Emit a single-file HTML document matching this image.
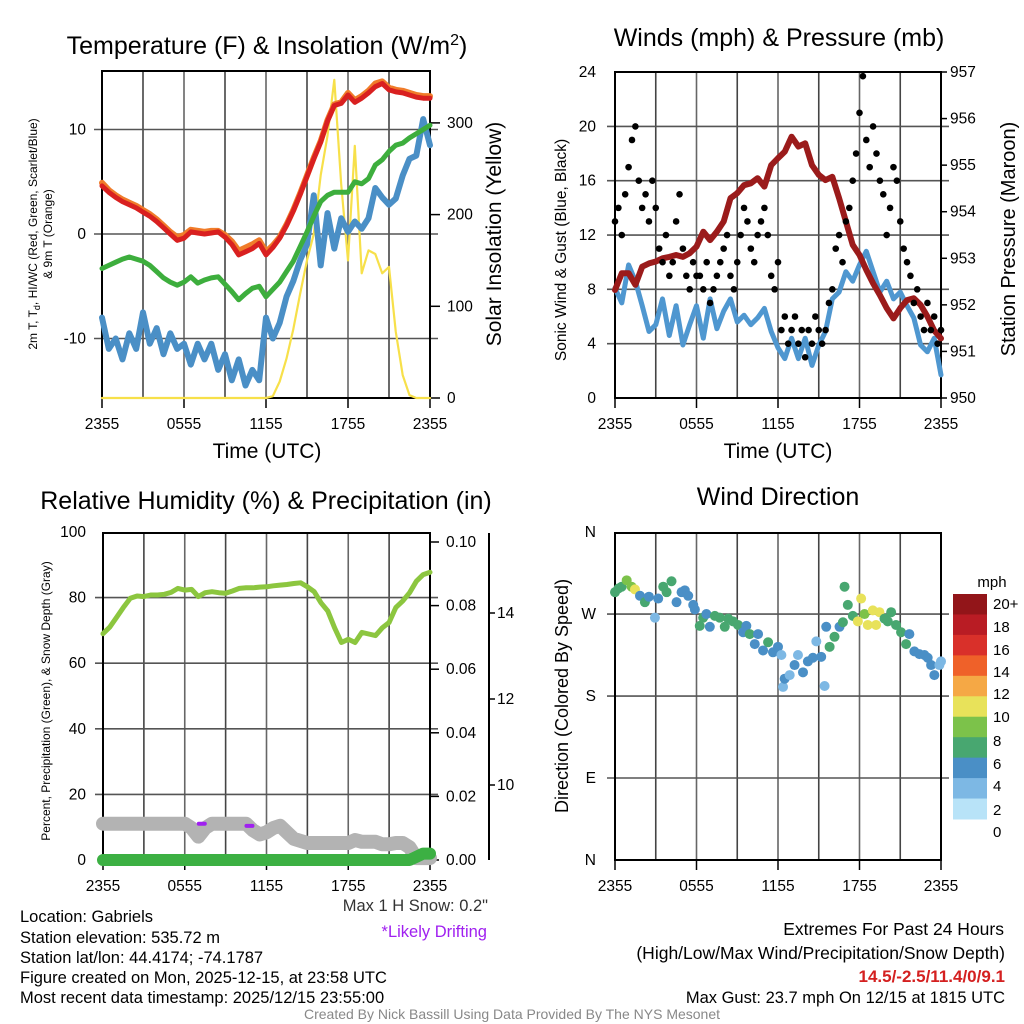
<!DOCTYPE html>
<html><head><meta charset="utf-8"><style>
html,body{margin:0;padding:0;background:#fff;}
svg{display:block;font-family:"Liberation Sans",Arial,sans-serif;}
</style></head><body>
<svg id="chart" width="1024" height="1024" viewBox="0 0 1024 1024">
<text x="267" y="54" font-size="25" text-anchor="middle">Temperature (F) &amp; Insolation (W/m<tspan dy="-9" font-size="16">2</tspan><tspan dy="9">)</tspan></text>
<text x="779" y="46" font-size="25" text-anchor="middle">Winds (mph) &amp; Pressure (mb)</text>
<text x="266" y="509" font-size="25" text-anchor="middle">Relative Humidity (%) &amp; Precipitation (in)</text>
<text x="778" y="505" font-size="25" text-anchor="middle">Wind Direction</text>
<text transform="translate(37,234) rotate(-90)" font-size="12" text-anchor="middle">2m T, T<tspan dy="3" font-size="9">d</tspan><tspan dy="-3">,  HI/WC (Red, Green, Scarlet/Blue)</tspan></text>
<text transform="translate(52,234) rotate(-90)" font-size="12" text-anchor="middle">&amp; 9m T (Orange)</text>
<text transform="translate(501,234) rotate(-90)" font-size="21" text-anchor="middle">Solar Insolation (Yellow)</text>
<text transform="translate(566,250) rotate(-90)" font-size="15.5" text-anchor="middle">Sonic Wind &amp; Gust (Blue, Black)</text>
<text transform="translate(1015,239) rotate(-90)" font-size="20" text-anchor="middle">Station Pressure (Maroon)</text>
<text transform="translate(50,701) rotate(-90)" font-size="12" text-anchor="middle">Percent, Precipitation (Green), &amp; Snow Depth (Gray)</text>
<text transform="translate(568,696) rotate(-90)" font-size="18" text-anchor="middle">Direction (Colored By Speed)</text>
<text x="267" y="458" font-size="21" text-anchor="middle">Time (UTC)</text>
<text x="778" y="458" font-size="21" text-anchor="middle">Time (UTC)</text>
<text x="992" y="587" font-size="15" text-anchor="middle">mph</text>
<text x="488" y="911" font-size="16.5" text-anchor="end" fill="#333">Max 1 H Snow: 0.2"</text>
<text x="487" y="937" font-size="16.5" text-anchor="end" fill="#a020f0">*Likely Drifting</text>
<g font-size="16.5">
<text x="20" y="922">Location: Gabriels</text>
<text x="20" y="943">Station elevation: 535.72 m</text>
<text x="20" y="963">Station lat/lon: 44.4174; -74.1787</text>
<text x="20" y="983">Figure created on Mon, 2025-12-15, at 23:58 UTC</text>
<text x="20" y="1003">Most recent data timestamp: 2025/12/15 23:55:00</text>
</g>
<g text-anchor="end">
<text x="1004" y="935" font-size="17.5">Extremes For Past 24 Hours</text>
<text x="1005" y="959" font-size="17.5">(High/Low/Max Wind/Precipitation/Snow Depth)</text>
<text x="1005" y="982" font-size="17" fill="#d42020" font-weight="bold">14.5/-2.5/11.4/0/9.1</text>
<text x="1005" y="1003" font-size="16.5">Max Gust: 23.7 mph On 12/15 at 1815 UTC</text>
</g>
<text x="512" y="1019" font-size="14" fill="#888" text-anchor="middle">Created By Nick Bassill Using Data Provided By The NYS Mesonet</text>
</svg>
<script>
// ---------- data ----------
const timeLabels = ["2355","0555","1155","1755","2355"];
const tempRed = [4.6,4.0,3.5,3.1,2.8,2.5,2.1,1.7,1.2,0.6,0.0,-0.6,-0.4,0.2,0.1,0.0,0.1,0.2,-0.3,-1.0,-2.0,-1.7,-1.4,-0.9,-2.0,-1.3,-0.4,0.8,2.2,3.8,5.5,7.2,8.8,10.8,12.3,12.5,13.3,12.6,13.0,13.5,14.1,14.4,13.8,13.6,13.5,13.3,13.1,13.0,13.0];
const temp9m = [4.9,4.2,3.7,3.3,3.0,2.7,2.3,1.9,1.4,0.8,0.2,-0.3,-0.1,0.4,0.3,0.2,0.3,0.3,-0.1,-0.7,-1.6,-1.3,-1.0,-0.6,-1.7,-1.1,-0.3,0.9,2.3,3.9,5.6,7.3,8.9,10.9,12.4,12.6,13.5,12.8,13.2,13.7,14.4,14.6,14.0,13.8,13.7,13.5,13.3,13.2,13.2];
const dewGreen = [-3.3,-3.0,-2.7,-2.4,-2.2,-2.4,-2.6,-3.0,-3.6,-4.2,-4.6,-4.9,-4.6,-4.1,-4.7,-4.4,-4.2,-4.1,-4.8,-5.5,-6.3,-5.7,-5.2,-5.0,-6.0,-5.3,-4.6,-3.6,-2.6,-1.2,0.2,1.7,3.1,3.7,4.0,4.0,4.0,5.0,4.8,5.3,6.6,7.1,7.9,8.5,8.7,9.2,9.6,10.0,10.4];
const windChill = [-8,-11,-10,-12,-9.5,-11,-7.5,-10.5,-9,-11.5,-9.5,-11,-10.5,-12.5,-10.5,-12,-10.5,-13,-11.5,-14,-12,-14.5,-13,-14,-8,-10,-8.5,-6,-4.5,-2.5,-1,3.7,-3,2,-1.4,1.5,0.2,1.2,0.5,1.5,4.4,3.5,2.8,3.4,5.6,7.2,7.5,11,8.5];
const solar = [0,0,0,0,0,0,0,0,0,0,0,0,0,0,0,0,0,0,0,0,0,0,0,0,0,2,18,43,75,114,150,179,243,286,347,233,150,275,136,161,157,136,143,72,25,3,0,0,0];
const pressure = [952.32,952.68,952.68,952.43,952.82,952.89,952.93,953.0,953.03,953.07,953.03,953.11,953.25,953.57,953.39,953.57,953.79,954.29,954.40,954.57,954.61,954.72,954.54,955.0,955.15,955.29,955.61,955.40,955.47,955.0,954.79,954.68,954.75,954.29,953.79,953.29,953.07,952.75,952.46,952.21,951.93,951.71,951.93,952.10,952.14,952.0,951.75,951.45,951.28];
const windSpeed = [8.1,7.0,9.8,8.6,6.8,4.9,5.4,7.3,4.6,6.8,3.9,5.4,6.8,4.4,7.3,5.1,6.4,7.3,5.6,6.1,5.4,5.9,6.6,4.9,3.7,2.9,4.4,2.9,4.4,2.4,3.9,4.9,7.3,7.8,9.3,8.6,9.8,10.8,9.3,7.8,8.6,7.3,7.8,6.8,5.9,3.9,3.4,4.4,1.7];
const gusts = [13,14,12,15,17,19,20,16,14,15,13,16,14, 11,10,12,9,10,13,15,11,9,8,10,9, 9,8,10,7,8,9,10,11,12,9,8,10, 12,14,13,11,10,12,13,14,12,9,8,10, 5,6,4,5,6,4,5,3,5,4,6,5, 4,5,7,8,11,12,10,13,14,16,18,21, 23.7,19,17,20,18,16,15,12,14,17,16,13, 11,10,9,7,8,6,5,7,5,6,4,5];
const rh = [69,71,74,77,79.8,80.5,80.3,80.8,80.8,81,81.6,82.8,82.3,82.5,80.3,81.5,81.8,81.5,81.3,82,82.8,83,83,83.2,83.3,83.6,83.8,84,84.3,84.5,83.3,81.8,78.4,75.9,70.8,66.3,67.3,66.3,69.4,68.9,68.4,70.8,72.4,77,79,81.5,85,87,87.7];
const snowDepth = [9.1,9.1,9.1,9.1,9.1,9.1,9.1,9.1,9.1,9.1,9.1,9.1,9.1,9.0,8.8,9.0,9.1,9.1,9.1,9.1,9.1,9.1,8.95,8.85,8.9,9.0,9.05,8.9,8.75,8.7,8.65,8.65,8.65,8.65,8.65,8.65,8.65,8.72,8.68,8.68,8.68,8.62,8.62,8.65,8.65,8.55,8.3,8.3,8.3];
const precip = [0,0,0,0,0,0,0,0,0,0,0,0,0,0,0,0,0,0,0,0,0,0,0,0,0,0,0,0,0,0,0,0,0,0,0,0,0,0,0,0,0,0,0,0,0,0,0.001,0.002,0.002];
const driftHours = [7.25, 10.75];
const driftDepth = [9.1, 9.05];
const dirHours = [0,0.25,0.49,0.86,1.22,1.47,1.84,2.2,2.5,2.94,3.18,3.55,3.8,4.16,4.53,4.9,5.14,5.39,5.76,5.88,6.24,6.49,6.73,6.98,7.35,7.71,8.08,8.33,8.69,9.06,9.43,9.67,9.92,10.29,10.53,10.9,11.27,11.63,12.0,12.25,12.37,12.49,12.86,13.22,13.47,13.84,14.2,14.57,14.82,15.18,15.43,15.55,15.8,16.16,16.53,16.78,16.9,17.14,17.51,17.88,18.12,18.37,18.61,18.98,19.22,19.47,19.84,20.08,20.33,20.69,21.06,21.43,21.67,22.04,22.41,22.78,23.02,23.27,23.51,23.88,24];
const dirDeg = [294,298,300,307,300,297,290,283,289,266,287,300,294,306,283,294,296,290,280,275,257,266,270,256,268,266,256,265,262,258,250,257,248,237,248,230,239,228,234,225,190,199,203,214,225,206,218,222,240,223,191,256,234,245,256,261,300,280,268,262,287,270,258,274,258,272,265,262,272,258,250,237,248,229,226,225,222,214,203,214,218];
const dirSpeed = [7,6,7,8,9,10,5,6,4,3,4,6,7,6,4,4,4,4,4,4,6,6,4,4,6,6,6,6,6,6,4,4,6,4,4,4,6,4,4,3,2,4,2,4,2,4,4,4,2,4,2,4,6,7,4,7,6,7,7,10,10,9,10,10,10,10,6,6,6,7,6,7,4,4,4,4,4,4,4,3,3];
const speedBins = ["0","2","4","6","8","10","12","14","16","18","20+"];
const binColors = ["#b8e3f8","#7db8e4","#4a8fc6","#48a770","#7cc24a","#e8e25a","#f5a845","#ef6129","#d9302a","#b91c24","#921519"];

// ---------- scales ----------
const X1 = h => 102 + h / 24 * 328;
const YT = v => 234 - v * 10.45;
const YS = v => 398 - v * 0.917;
const X2 = h => 615 + h / 24 * 326;
const YW = v => 398 - v * 13.58;
const YP = v => 398 - (v - 950) * 46.57;
const X3 = h => 103 + h / 24 * 327;
const YRH = v => 860 - v * 3.28;
const YPR = v => 860 - v * 3180;
const YSN = v => 785 - (v - 10) * 43;
const YD = d => 860 - d * 0.911;

const svg = document.getElementById('chart');
const NS = 'http://www.w3.org/2000/svg';
function mk(tag, attrs, parent) {
  const e = document.createElementNS(NS, tag);
  for (const k in attrs) e.setAttribute(k, attrs[k]);
  (parent || svg).appendChild(e);
  return e;
}
function line(x1, y1, x2, y2, stroke, w) {
  return mk('line', {x1: x1, y1: y1, x2: x2, y2: y2, stroke: stroke, 'stroke-width': w});
}
function txt(x, y, s, size, anchor, fill) {
  const t = mk('text', {x: x, y: y, 'font-size': size, 'text-anchor': anchor || 'middle', fill: fill || '#000'});
  t.textContent = s;
  return t;
}
function path(vals, xf, yf, color, w, step) {
  let d = '';
  vals.forEach((v, i) => { d += (i ? 'L' : 'M') + xf(i * step).toFixed(1) + ',' + yf(v).toFixed(1); });
  return mk('path', {d: d, fill: 'none', stroke: color, 'stroke-width': w, 'stroke-linejoin': 'round', 'stroke-linecap': 'round'});
}

// ---------- grids ----------
function panelGrid(x0, x1, y0, y1, hLines, name) {
  for (let k = 1; k < 8; k++) {
    const x = x0 + (x1 - x0) * k / 8;
    const g = line(x, y0, x, y1, k % 2 ? '#444' : '#666', 1.6);
    
    
  }
  hLines.forEach(y => {
    const g = line(x0 - 8, y, x1 + 8, y, '#555', 1.6);
    
    
  });
  const f = mk('rect', {x: x0, y: y0, width: x1 - x0, height: y1 - y0, fill: 'none', stroke: '#000', 'stroke-width': 2});
  
  
  timeLabels.forEach((s, i) => {
    const x = x0 + (x1 - x0) * i / 4;
    const t = txt(x, y1 + 31, s, 15.5);
    
    
    const tk = line(x, y1, x, y1 + 10, '#000', 1.5);
    
    
  });
}
panelGrid(102, 430, 71, 398, [-10, 0, 10].map(YT), 'temperature');
panelGrid(615, 941, 72, 398, [4, 8, 12, 16, 20].map(YW), 'winds');
panelGrid(103, 430, 533, 860, [20, 40, 60, 80].map(YRH), 'humidity');
panelGrid(615, 941, 533, 860, [YD(90), YD(180), YD(270)], 'direction');

// ---------- axis labels ----------
[-10, 0, 10].forEach(v => {
  const t = txt(86, YT(v) + 5, String(v), 15.5, 'end');
  
  
});
[0, 100, 200, 300].forEach(v => {
  const t = txt(447, YS(v) + 5, String(v), 15.5, 'start');
  
  
  const k = line(430, YS(v), 440, YS(v), '#000', 1.5);
  
  
});
[0, 4, 8, 12, 16, 20, 24].forEach(v => {
  const t = txt(596, YW(v) + 5, String(v), 15.5, 'end');
  
  
});
[950, 951, 952, 953, 954, 955, 956, 957].forEach(v => {
  const t = txt(950, YP(v) + 5, String(v), 15.5, 'start');
  
  
  const k = line(941, YP(v), 947, YP(v), '#000', 1.5);
  
  
});
[0, 20, 40, 60, 80, 100].forEach(v => {
  const t = txt(86, YRH(v) + 5, String(v), 15.5, 'end');
  
  
});
[0, 0.02, 0.04, 0.06, 0.08, 0.10].forEach(v => {
  const t = txt(446, YPR(v) + 5, v.toFixed(2), 15.5, 'start');
  
  
  const k = line(430, YPR(v), 439, YPR(v), '#000', 1.5);
  
  
});
const snowAxis = line(489, 533, 489, 860, '#000', 2);


[10, 12, 14].forEach(v => {
  const t = txt(497, YSN(v) + 5, String(v), 15.5, 'start');
  
  
  const k = line(489, YSN(v), 495, YSN(v), '#000', 1.5);
  
  
});
[['N', 0], ['E', 90], ['S', 180], ['W', 270], ['N', 360]].forEach(p => {
  const t = txt(596, YD(p[1]) + 5, p[0], 15.5, 'end');
  
  
});

// ---------- panel 1 series ----------
const sol = path(solar, X1, YS, '#f7e04a', 2.2, 0.5);


const wc = path(windChill, X1, YT, '#4a8fc6', 6, 0.5);


const dp = path(dewGreen, X1, YT, '#3dae3d', 5, 0.5);


const t9 = path(temp9m, X1, YT, '#f07c2a', 6, 0.5);


const t2 = path(tempRed, X1, YT, '#d92020', 5, 0.5);



// ---------- panel 2 series ----------
const ws = path(windSpeed, X2, YW, '#4f97d0', 5, 0.5);


const pr = path(pressure, X2, YP, '#9b1b1b', 6, 0.5);


gusts.forEach((v, i) => {
  const c = mk('circle', {cx: X2(i * 0.25), cy: YW(v), r: 3.3, fill: '#000'});
  
  
});

// ---------- panel 3 series ----------
const sn = path(snowDepth, X3, YSN, '#b3b3b3', 14, 0.5);


driftHours.forEach((h, i) => {
  const d = mk('line', {x1: X3(h) - 3, y1: YSN(driftDepth[i]), x2: X3(h) + 3, y2: YSN(driftDepth[i]), stroke: '#a020f0', 'stroke-width': 4, 'stroke-linecap': 'round'});
  
  
});
const pp = path(precip, X3, YPR, '#3cb043', 12, 0.5);


const rl = path(rh, X3, YRH, '#8cc63f', 5, 0.5);



// ---------- panel 4 series ----------
dirHours.forEach((h, i) => {
  const bin = Math.min(10, Math.floor(dirSpeed[i] / 2));
  const c = mk('circle', {cx: X2(h), cy: YD(dirDeg[i]), r: 5, fill: binColors[bin]});
  
  
});
const boxH = 225 / 11;
binColors.slice().reverse().forEach((col, i) => {
  const r = mk('rect', {x: 953, y: 594 + i * boxH, width: 34, height: boxH + 0.5, fill: col});
  
  
});
const labelY = [609, 632, 655, 677, 699, 722, 746, 769, 791, 815, 837];
speedBins.slice().reverse().forEach((s, i) => {
  const t = txt(993, labelY[i], s, 15, 'start');
  
  
});
</script>
</body></html>
